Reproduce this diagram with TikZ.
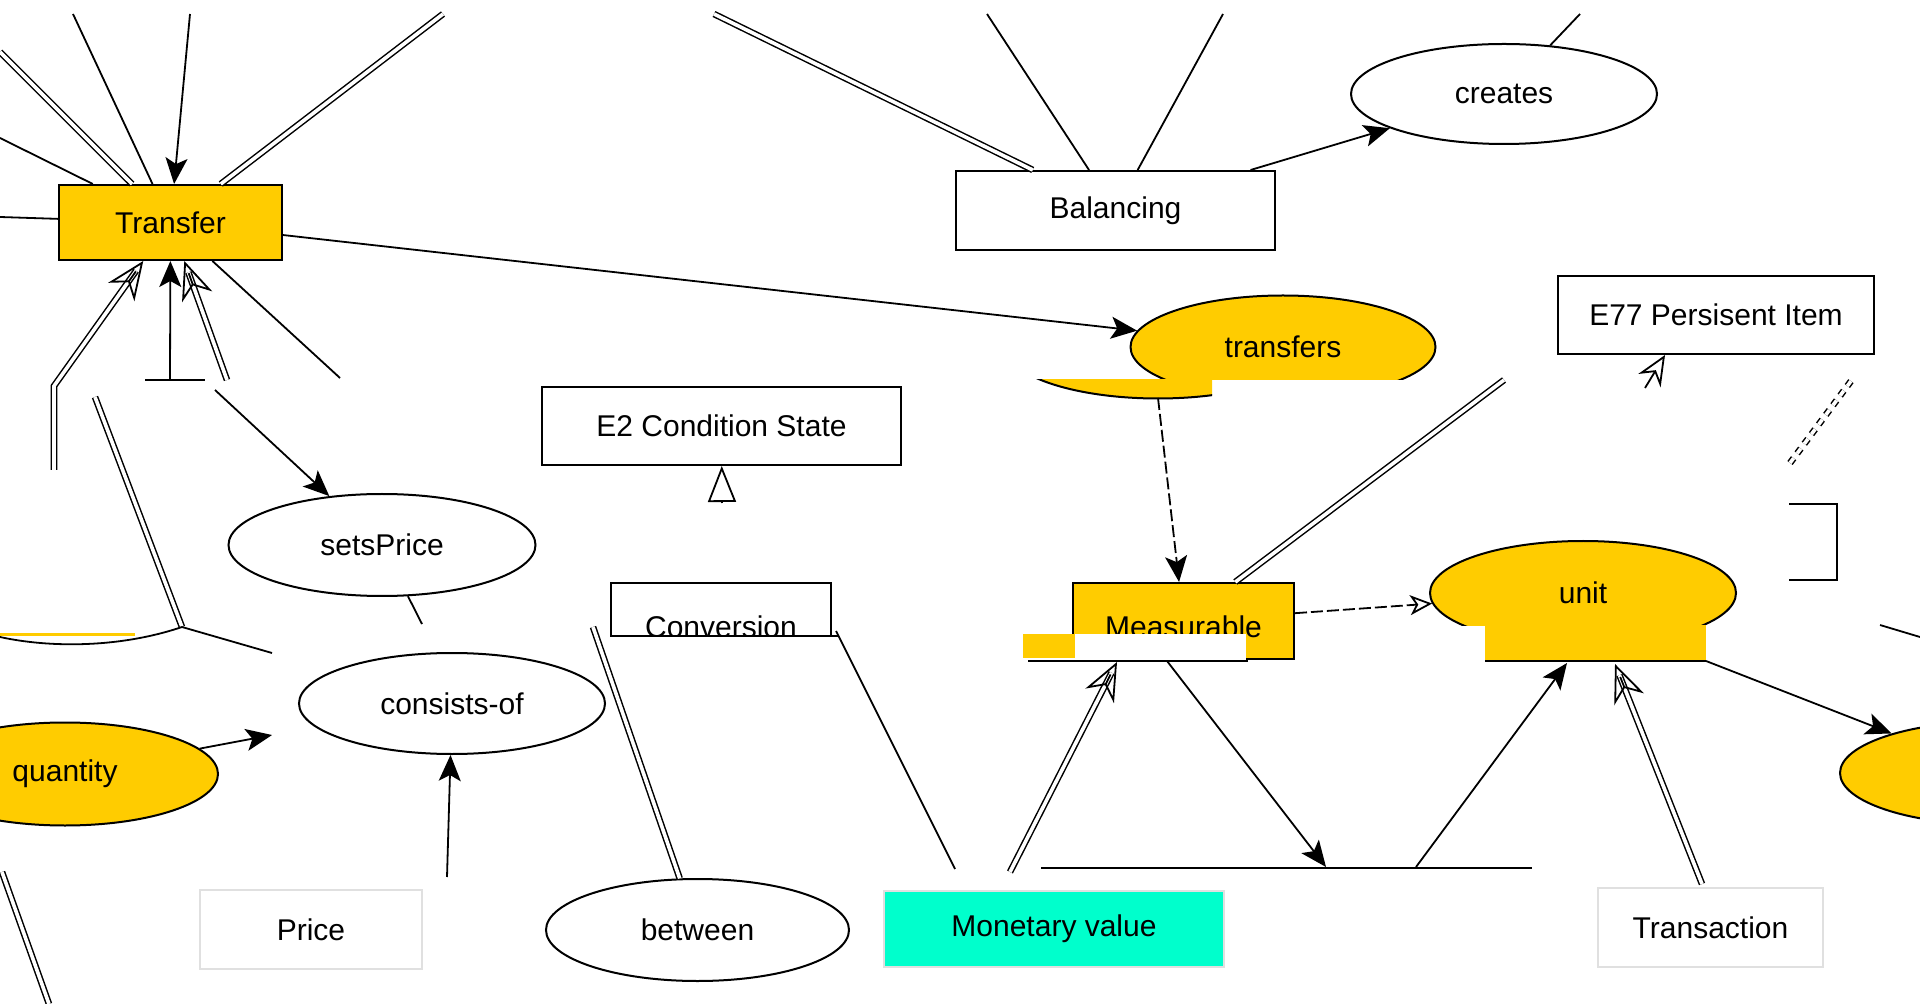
\documentclass[tikz,border=0pt]{standalone}
\usepackage{fontspec}
\setmainfont{Liberation Sans}
\usepackage{tikz}
\usetikzlibrary{arrows.meta}
\usetikzlibrary{arrows.meta,shapes.geometric}
\definecolor{gold}{HTML}{FFCC00}
\definecolor{aqua}{HTML}{00FFCC}

\begin{document}
\begin{tikzpicture}[x=0.5pt,y=-0.5pt,
	font=\fontsize{15}{18}\selectfont,
	box/.style={draw,line width=1pt,rectangle,inner sep=0pt},
	lightbox/.style={draw=black!12,line width=1pt,rectangle,inner sep=0pt},
	oval/.style={draw,line width=1pt,ellipse,inner sep=0pt,minimum width=153pt,minimum height=51pt},
	lowtext/.style={text height=19pt,text depth=3pt},
	link/.style={line width=0.9pt},
	dbl/.style={double,double distance=1.8pt,line width=0.75pt},
	dblhead/.style={dbl,shorten >=6pt},
	arr/.style={-{Stealth[length=13pt,width=11pt,inset=3pt]}},
	openarr/.style={-{Stealth[open,length=15pt,width=13pt,inset=5pt]}},
	bigopen/.style={-{Stealth[open,length=19pt,width=16pt,inset=6pt]}}]
	
	\useasboundingbox (0,0) rectangle (1920,1004);
	\clip (0,0) rectangle (1920,1004);
	
	% --- upper part ---
	\node[box,fill=gold,minimum width=111.5pt,minimum height=37.5pt] (trf) at (170.5,222.5) {Transfer};
	\node[box,minimum width=159.5pt,minimum height=39.5pt] (bal) at (1115.5,210.5) {Balancing};
	\node[oval,minimum height=50pt] (crt) at (1504,94) {creates};
	\node[box,minimum width=158pt,minimum height=39pt] (e77) at (1716,315) {E77 Persisent Item};
	\begin{scope}
		\clip (0,0) rectangle (1920,380);
		\node[oval,fill=gold,minimum width=152.5pt,minimum height=51.5pt] (trfs) at (1283,347) {transfers};
	\end{scope}
	
	% lines coming in from above
	\coordinate (tl1) at (0,52);
	\coordinate (tl2) at (0,138);
	\coordinate (tl3) at (73,14);
	\coordinate (tl4) at (190,14);
	\coordinate (tl5) at (443,14);
	\coordinate (tl6) at (0,217);
	\draw[dbl] (tl1) -- (trf);
	\draw[link] (tl2) -- (trf);
	\draw[link] (tl3) -- (trf);
	\draw[link,arr] (tl4) -- (trf);
	\draw[dbl] (tl5) -- (trf);
	\draw[link] (tl6) -- (trf);
	
	\coordinate (bt1) at (714,14);
	\coordinate (bt2) at (987,14);
	\coordinate (bt3) at (1223,14);
	\coordinate (ct1) at (1580,14);
	\draw[dbl] (bt1) -- (bal);
	\draw[link] (bt2) -- (bal);
	\draw[link] (bt3) -- (bal);
	\draw[link] (ct1) -- (crt);
	\draw[link,arr] (bal) -- (crt);
	\draw[link,arr] (trf) -- (trfs);
	
	% under Transfer
	\coordinate (tb1) at (54,470);
	\coordinate (tb2) at (54,386);
	\coordinate (tb3) at (170,380);
	\coordinate (tb4) at (145,380);
	\coordinate (tb5) at (205,380);
	\coordinate (tb6) at (227,380);
	\coordinate (th1) at (135.9,271.4);
	\coordinate (th2) at (188.7,273.2);
	\draw[dblhead] (tb1) -- (tb2) -- (trf);
	\draw[link,bigopen] (th1) -- (trf);
	\draw[link,arr] (tb3) -- (trf);
	\draw[link] (tb4) -- (tb5);
	\draw[dblhead] (tb6) -- (trf);
	\draw[link,bigopen] (th2) -- (trf);
	
	% --- middle part ---
	\node[box,minimum width=179.5pt,minimum height=39pt] (e2) at (721.5,426) {E2 Condition State};
	\node[oval,minimum width=153.5pt] (setp) at (382,545) {setsPrice};
	\node[box,lowtext,minimum width=110pt,minimum height=39pt] (conv) at (721,622) {Conversion};
	\node[box,lowtext,fill=gold,minimum width=110.5pt,minimum height=38pt] (meas) at (1183.5,621) {Measurable};
	\node[oval,fill=gold,minimum height=52pt] (unit) at (1583,593) {unit};
	
	\coordinate (sp1) at (340,378);
	\coordinate (sp2) at (215,390);
	\coordinate (sp3) at (422,624);
	\draw[link] (trf) -- (sp1);
	\draw[link,arr] (sp2) -- (setp);
	\draw[link] (setp) -- (sp3);
	
	\coordinate (lm1) at (95,397);
	\coordinate (lm2) at (182,627);
	\coordinate (lm3) at (272,653);
	\draw[dbl] (lm1) -- (lm2);
	\draw[link] (lm2) -- (lm3);
	\draw[gold,line width=1.5pt] (0,634) -- (135,634);
	\draw[link] (0,637) .. controls (50,648) and (120,648) .. (lm2);
	
	\coordinate (e2a) at (722,503);
	\draw[link,dashed,-{Triangle[open,length=18pt,width=14pt]}] (e2a) -- (e2);
	
	% slipped piece of transfers
	\begin{scope}
		\clip (1000,380) rectangle (1212,400);
		\draw[line width=1pt,fill=gold] (1158,347) ellipse [x radius=152.5,y radius=51.5];
	\end{scope}
	\coordinate (tm1) at (1158,398);
	\draw[link,dash pattern=on 6pt off 2pt,arr] (tm1) -- (meas);
	
	\coordinate (me1) at (1504,380);
	\coordinate (me2) at (1645,388);
	\coordinate (me3) at (1665,355);
	\draw[dbl] (meas) -- (me1);
	\draw[link,openarr] (me2) -- (me3);
	\draw[link,dash pattern=on 6pt off 2pt,-{Stealth[open,length=11pt,width=10pt,inset=3pt]}] (meas) -- (unit);
	
	\draw[dbl,dashed] (1790,463) -- (1854,377);
	\draw[link] (1789,504) -- (1837,504) -- (1837,580) -- (1789,580);
	
	% --- lower part ---
	\fill[white] (605,637) rectangle (850,668);
	\draw[link] (611,636) -- (838,636);
	\fill[white] (1072,634) rectangle (1246,664);
	\fill[gold] (1023,634) rectangle (1075,658);
	\draw[link] (1028,661) -- (1248,661);
	\fill[white] (1440,626) rectangle (1485,652);
	\fill[gold] (1485,625) rectangle (1706,661);
	\draw[link] (1485,661) -- (1706,661);
	
	\node[oval,fill=gold,minimum height=51.5pt] (qty) at (65,774) {quantity};
	\node[oval,minimum height=50.5pt] (cons) at (452,703.5) {consists-of};
	\node[lightbox,minimum width=111pt,minimum height=39.5pt] (price) at (311,929.5) {Price};
	\node[oval,minimum width=151.5pt] (betw) at (697.5,930) {between};
	\node[lightbox,fill=aqua,minimum width=170pt,minimum height=38pt] (monv) at (1054,929) {Monetary value};
	\node[lightbox,minimum width=112.5pt,minimum height=39.5pt] (trans) at (1710.5,927.5) {Transaction};
	\node[oval,fill=gold,minimum height=51.5pt] (rgt) at (1993,773) {};
	
	\coordinate (qa) at (272,735);
	\coordinate (pa) at (447,877);
	\draw[link,arr] (qty) -- (qa);
	\draw[link,arr] (pa) -- (cons);
	
	\coordinate (cv1) at (593,627);
	\coordinate (cv2) at (836,631);
	\coordinate (cv3) at (955,869);
	\draw[dbl] (cv1) -- (betw);
	\draw[link] (cv2) -- (cv3);
	
	\coordinate (mv1) at (1010,872);
	\coordinate (mv2) at (1117,662);
	\coordinate (mvh) at (1110.6,674.5);
	\draw[dblhead] (mv1) -- (mv2);
	\draw[link,bigopen] (mvh) -- (mv2);
	
	\coordinate (ms1) at (1167,661);
	\coordinate (ms2) at (1326,867);
	\coordinate (ms3) at (1416,867);
	\coordinate (ms4) at (1567,663);
	\coordinate (hl1) at (1041,868);
	\coordinate (hl2) at (1532,868);
	\draw[link,arr] (ms1) -- (ms2);
	\draw[link,arr] (ms3) -- (ms4);
	\draw[link] (hl1) -- (hl2);
	
	\coordinate (ta1) at (1702,884);
	\coordinate (ta2) at (1615,664);
	\coordinate (tah) at (1620.2,677);
	\coordinate (ua1) at (1706,661);
	\draw[dblhead] (ta1) -- (ta2);
	\draw[link,bigopen] (tah) -- (ta2);
	\draw[link,arr] (ua1) -- (rgt);
	
	\coordinate (bl1) at (2,872);
	\coordinate (bl2) at (49,1004);
	\coordinate (rl1) at (1880,625);
	\coordinate (rl2) at (1920,637);
	\draw[dbl] (bl1) -- (bl2);
	\draw[link] (rl1) -- (rl2);
	
\end{tikzpicture}
\end{document}
